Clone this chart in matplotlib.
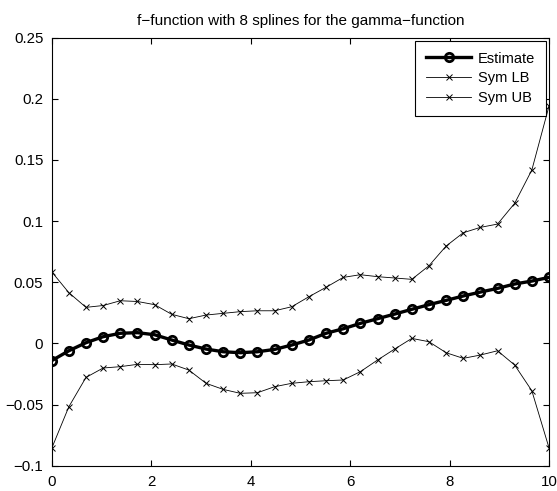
import numpy as np
import matplotlib.pyplot as plt

plt.rcParams['font.family'] = ['Liberation Sans', 'DejaVu Sans']

x = np.linspace(0, 10, 30)

estimate = [-0.0141, -0.0060, 0.0006, 0.0055, 0.0083, 0.0088, 0.0071, 0.0028,
            -0.0013, -0.0046, -0.0068, -0.0076, -0.0068, -0.0049, -0.0013, 0.0028,
            0.0083, 0.0120, 0.0164, 0.0202, 0.0240, 0.0279, 0.0317, 0.0352,
            0.0388, 0.0420, 0.0450, 0.0486, 0.0510, 0.0540]
sym_lb = [-0.0858, -0.0518, -0.0278, -0.0201, -0.0190, -0.0171, -0.0174, -0.0168,
          -0.0218, -0.0326, -0.0376, -0.0408, -0.0403, -0.0354, -0.0326, -0.0313,
          -0.0305, -0.0299, -0.0231, -0.0136, -0.0046, 0.0041, 0.0014, -0.0076,
          -0.0122, -0.0095, -0.0060, -0.0177, -0.0387, -0.0853]
sym_ub = [0.0586, 0.0415, 0.0295, 0.0310, 0.0349, 0.0343, 0.0317, 0.0238,
          0.0202, 0.0232, 0.0246, 0.0260, 0.0267, 0.0267, 0.0300, 0.0382,
          0.0459, 0.0540, 0.0562, 0.0546, 0.0535, 0.0524, 0.0635, 0.0796,
          0.0905, 0.0949, 0.0976, 0.1146, 0.1418, 0.1940]

fig = plt.figure(figsize=(5.57, 4.91), dpi=100)
ax = fig.add_axes([0.0928, 0.0515, 0.8928, 0.8717])

ax.plot(x, estimate, 'k-o', lw=2.4, ms=6, mew=2, mfc='none', label='Estimate')
ax.plot(x, sym_lb, 'k-x', lw=0.6, ms=5, mew=0.7, label='Sym LB')
ax.plot(x, sym_ub, 'k-x', lw=0.6, ms=5, mew=0.7, label='Sym UB')

ax.set_xlim(0, 10)
ax.set_ylim(-0.1, 0.25)
ax.set_xticks([0, 2, 4, 6, 8, 10])
ax.set_yticks([-0.1, -0.05, 0, 0.05, 0.1, 0.15, 0.2, 0.25])
ax.set_yticklabels(['\u22120.1', '\u22120.05', '0', '0.05', '0.1', '0.15', '0.2', '0.25'])
ax.tick_params(direction='in', top=True, right=True, length=4, labelsize=10.8)
ax.tick_params(axis='x', pad=7)
ax.tick_params(axis='y', pad=6)
for s in ax.spines.values():
    s.set_linewidth(0.8)

ax.set_title('f\u2212function with 8 splines for the gamma\u2212function', fontsize=11, pad=9)

leg = ax.legend(loc='upper right', fontsize=10.5, fancybox=False, framealpha=1,
                edgecolor='black', borderaxespad=0.2, handlelength=3.1,
                borderpad=0.75, labelspacing=0.4, handletextpad=0.45)
leg.get_frame().set_linewidth(0.8)

fig.savefig('out.png', dpi=100)
